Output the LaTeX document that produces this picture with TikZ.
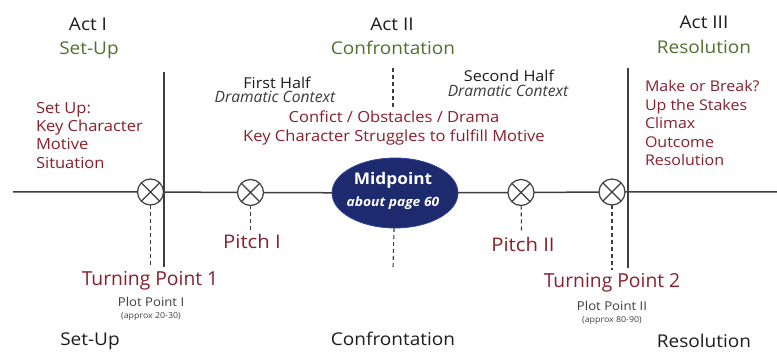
\documentclass[tikz,border=0pt]{standalone}
\usepackage{fontspec}
\setmainfont{Open Sans}[FakeStretch=1.08]
\newfontfamily\plainsans{Open Sans}
\usetikzlibrary{shapes.geometric}
\definecolor{plotred}{HTML}{8A1F2C}
\definecolor{actgreen}{HTML}{52702C}
\definecolor{inkgray}{HTML}{3E3E3E}
\definecolor{textblack}{HTML}{1C1C1C}
\definecolor{notegray}{HTML}{3A3A3A}
\definecolor{midnavy}{HTML}{1E2A6E}
\definecolor{midedge}{HTML}{34449C}

\begin{document}
\begin{tikzpicture}[x=1pt,y=-1pt,
  every node/.style={inner sep=0pt, outer sep=0pt},
  rule/.style={draw=inkgray, line width=1.5pt},
  guide/.style={draw=inkgray, line width=1.1pt, dash pattern=on 4pt off 3pt},
  beat/.style={circle, draw=inkgray, line width=1.2pt, minimum size=26pt, fill=white,
    path picture={\draw[inkgray, line width=1.2pt]
      (path picture bounding box.north west) -- (path picture bounding box.south east)
      (path picture bounding box.north east) -- (path picture bounding box.south west);}},
  acthead/.style={anchor=base, text=textblack, font=\fontsize{17.6}{21}\selectfont},
  actname/.style={anchor=base, text=actgreen, font=\fontsize{17.6}{21}\selectfont},
  half/.style={anchor=base, text=textblack, font=\fontsize{15}{18}\selectfont},
  halfnote/.style={anchor=base, text=notegray, font=\plainsans\fontsize{15.6}{18}\selectfont\itshape},
  redline/.style={anchor=base, text=plotred, font=\fontsize{15.3}{18}\selectfont},
  listline/.style={anchor=base west, text=plotred, font=\fontsize{15.3}{18}\selectfont},
  pitch/.style={anchor=base, text=plotred, font=\fontsize{18.8}{22}\selectfont},
  turn/.style={anchor=base, text=plotred, font=\plainsans\fontsize{19.3}{23}\selectfont},
  plotpt/.style={anchor=base, text=textblack!85, font=\fontsize{12.2}{14}\selectfont},
  approx/.style={anchor=base, text=textblack!85, font=\fontsize{8.2}{10}\selectfont},
  footer/.style={anchor=base, text=textblack, font=\fontsize{17.6}{21}\selectfont},
]
\useasboundingbox (0,0) rectangle (777,358);

% act headings
\node[acthead] (actI) at (88,31) {Act I};
\node[actname] (actIname) at (89,55) {Set-Up};
\node[acthead] (actII) at (392,31) {Act II};
\node[actname] (actIIname) at (393,55) {Confrontation};
\node[acthead] (actIII) at (704,29) {Act III};
\node[actname] (actIIIname) at (704,54) {Resolution};

% act boundaries and the midpoint guide
\coordinate (bI top) at (164,72);
\coordinate (bI bot) at (164,267);
\coordinate (bII top) at (628,68);
\coordinate (bII bot) at (628,268);
\coordinate (half top) at (393,68);
\coordinate (half bot) at (393,107);
\draw[rule] (bI top) -- (bI bot);
\draw[rule] (bII top) -- (bII bot);
\draw[guide] (half top) -- (half bot);

% act one list
\foreach \t [count=\i] in {Set Up:, Key Character, Motive, Situation}
  \node[listline] (setup\i) at (36,{113.5+18.2*(\i-1)}) {\t};

% act three list
\foreach \t [count=\i] in {Make or Break?, Up the Stakes, Climax, Outcome, Resolution}
  \node[listline, font=\fontsize{14.8}{18}\selectfont] (resol\i) at (645,{91.5+18.6*(\i-1)}) {\t};

% act two notes
\node[half] (firsthalf) at (277,89) {First Half};
\node[halfnote] (firstctx) at (275,103) {Dramatic Context};
\node[half] (secondhalf) at (509,82) {Second Half};
\node[halfnote] (secondctx) at (508,97) {Dramatic Context};
\node[redline] (conflict) at (394,123) {Confict / Obstacles / Drama};
\node[redline] (struggle) at (394,142) {Key Character Struggles to fulfill Motive};

% the timeline
\coordinate (lineL) at (13,192);
\coordinate (lineR) at (777,192);
\node[beat] (tp1) at (150.5,192) {};
\node[beat] (p1) at (250.5,192.5) {};
\node[ellipse, fill=midnavy, draw=midedge, line width=0.8pt,
      minimum width=126pt, minimum height=70pt] (mid) at (395,193) {};
\node[beat] (p2) at (521,192.5) {};
\node[beat] (tp2) at (612,192) {};
\draw[rule] (lineL) -- (tp1) -- (p1) -- (mid) -- (p2) -- (tp2) -- (lineR);

\node[anchor=base, text=white, font=\fontsize{16}{19}\selectfont\bfseries] (midtitle) at (393,185) {Midpoint};
\node[anchor=base, text=white, font=\fontsize{12.8}{15}\selectfont\bfseries\itshape] (midpage) at (393,207) {about page 60};

% drop lines to the labels
\coordinate (tp1 foot) at (150.5,267);
\coordinate (p1 foot) at (250.5,230);
\coordinate (mid foot) at (393,268);
\coordinate (p2 foot) at (521.5,232);
\coordinate (tp2 foot) at (612,270);
\draw[guide] (tp1) -- (tp1 foot);
\draw[guide] (p1) -- (p1 foot);
\draw[guide] (mid) -- (mid foot);
\draw[guide] (p2) -- (p2 foot);
\draw[guide] (tp2) -- (tp2 foot);

% labels below the timeline
\node[pitch] (pitchI) at (252,249) {Pitch I};
\node[pitch] (pitchII) at (523,252) {Pitch II};
\node[turn] (turnI) at (150,286) {Turning Point 1};
\node[plotpt] (plotI) at (151,307) {Plot Point I};
\node[approx] (approxI) at (151,319) {(approx 20-30)};
\node[turn] (turnII) at (612,288) {Turning Point 2};
\node[plotpt] (plotII) at (612,310) {Plot Point II};
\node[approx] (approxII) at (612,323) {(approx 80-90)};

% act names along the foot
\node[footer] (footI) at (90,345) {Set-Up};
\node[footer] (footII) at (393,345) {Confrontation};
\node[footer] (footIII) at (704,348) {Resolution};
\end{tikzpicture}
\end{document}
